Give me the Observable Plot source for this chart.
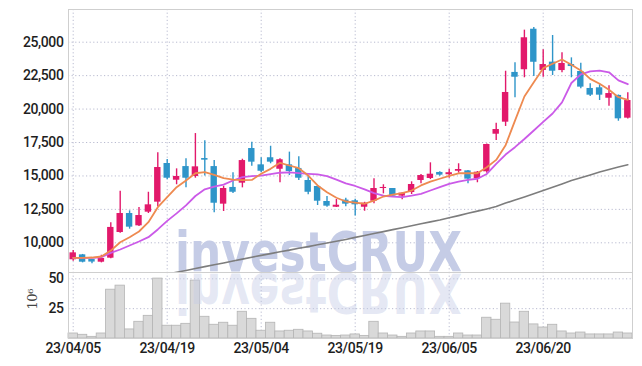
<!DOCTYPE html>
<html>
<head>
<meta charset="utf-8">
<script src="https://cdn.jsdelivr.net/npm/d3@7"></script>
<script src="https://cdn.jsdelivr.net/npm/@observablehq/plot@0.6"></script>
<style>
  html, body { margin: 0; padding: 0; background: #fff; }
  #chart { position: relative; width: 642px; height: 366px; overflow: hidden; }
  #chart svg { position: absolute; left: 0; overflow: visible; }
</style>
</head>
<body>
<div id="chart"></div>
<script>
const dates = ["23/04/05","23/04/06","23/04/07","23/04/10","23/04/11","23/04/12","23/04/13","23/04/14","23/04/17","23/04/18","23/04/19","23/04/20","23/04/21","23/04/24","23/04/25","23/04/26","23/04/27","23/04/28","23/05/02","23/05/03","23/05/04","23/05/08","23/05/09","23/05/10","23/05/11","23/05/12","23/05/15","23/05/16","23/05/17","23/05/18","23/05/19","23/05/22","23/05/23","23/05/24","23/05/25","23/05/26","23/05/30","23/05/31","23/06/01","23/06/02","23/06/05","23/06/07","23/06/08","23/06/09","23/06/12","23/06/13","23/06/14","23/06/15","23/06/16","23/06/19","23/06/20","23/06/21","23/06/22","23/06/23","23/06/26","23/06/27","23/06/28","23/06/29","23/06/30","23/07/03"];

const open  = [8730,9100,8750,8550,8850,10770,12190,11270,12290,13040,15930,14680,15700,14960,16300,15700,12890,14140,14460,17050,15830,16360,15500,15830,15560,14660,14210,13090,12660,13190,13140,12660,13110,14060,14060,13490,13760,14660,14810,15260,15090,15350,15380,14790,15310,18120,19020,22740,22940,25970,22890,23510,22880,23330,22810,21540,21590,20810,21020,19320];
const high  = [9420,9130,8760,9070,11500,13860,12390,12640,13780,16730,16230,15530,16280,18170,17630,16150,14230,15230,16250,17520,16360,17220,16280,16780,16430,15030,14290,13460,13240,13340,13260,13030,14790,14340,14060,13740,14560,15110,15980,15310,15500,15910,15400,15330,17380,18940,22830,23460,25900,26100,24430,25500,24210,23830,23430,21890,21820,21740,21050,21220];
const low   = [8620,8500,8430,8500,8800,10720,11020,11220,12190,12690,14710,14340,14110,14830,15000,12240,12340,13690,14110,15730,15240,15910,14490,15030,14660,13590,12790,12660,12640,12690,12000,12360,12920,13660,13480,13220,13610,14410,14730,14980,14830,15210,14410,14490,15200,17650,18700,20840,22340,22440,22380,22510,22710,22340,21520,20940,20640,20220,19090,19250];
const close = [9250,8550,8560,8830,11150,12190,11170,12040,12840,15630,14830,14960,14830,15680,16180,12960,14060,13780,16150,16030,15350,16030,16210,15330,14830,13780,13110,12740,12810,12890,12840,12960,14060,14140,13490,13710,14360,15030,15130,15060,15240,15480,14760,15280,17350,18470,21240,22380,25330,23500,23330,22830,23410,23180,21640,21040,21040,21160,19270,20640];

const ma5  = [8880,8880,8900,8975,9420,10045,10420,10845,11540,12660,13410,14160,14660,15200,15280,15085,14830,14730,14680,14700,15160,15530,15980,15780,15580,15030,14290,13780,13370,13090,13000,12920,13160,13460,13610,13710,13910,14290,14580,14790,15010,15200,15200,15200,15650,16200,17300,19140,20940,22010,23060,23390,23710,23310,22890,22260,21890,21440,20890,20690];
const ma20 = [8880,8880,8880,8920,9250,9500,9800,10100,10420,11000,11640,12200,12800,13500,14000,14200,14350,14660,14910,14980,15030,15130,15240,15260,15210,15160,15110,14980,14730,14450,14250,13990,13710,13520,13460,13410,13520,13660,13910,14160,14410,14580,14710,14790,15150,15900,16600,17150,17760,18400,19040,19670,20500,21950,22600,22820,22880,22750,22150,21860];
const ma60 = [null,null,null,null,null,null,null,null,null,null,7667,7794,7936,8078,8220,8355,8497,8639,8781,8923,9058,9192,9327,9454,9589,9716,9850,9985,10112,10254,10404,10546,10695,10838,10987,11129,11271,11421,11563,11705,11870,12034,12206,12371,12535,12715,12969,13200,13432,13664,13904,14150,14405,14659,14861,15078,15295,15489,15668,15840];

const volume = [4.2,3.1,1.4,4.2,40.9,44.3,7.6,14,19,50.2,10.7,10.7,12.3,48.5,18.2,11.5,13.2,10.7,22.4,16.5,6.5,13.2,5.9,6.5,7.3,5.9,4.0,2.5,2.2,2.5,3.4,2.2,14,4.2,2.5,1.4,4.2,5.9,5.9,1.4,1.4,4.2,2.5,2.5,17.4,15.7,29.2,13.4,22.4,11.8,9.2,11.5,5.9,4.2,5,3.4,3.4,3.4,5,4.2];

const priceTicks = [10000,12500,15000,17500,20000,22500,25000];
const volumeTicks = [25,50];
const dateTicks = ["23/04/05","23/04/19","23/05/04","23/05/19","23/06/05","23/06/20"];
const watermarkText = "investCRUX";

const rows = dates.map((d, i) => ({
  date: d, open: open[i], high: high[i], low: low[i], close: close[i],
  ma5: ma5[i], ma20: ma20[i], ma60: ma60[i], volume: volume[i]
}));

const UP = "#e2196b", DOWN = "#2e95c9";
const candleColor = d => d.close >= d.open ? UP : DOWN;
const gridStyle = {stroke: "#b9bbd0", strokeOpacity: 1, strokeDasharray: "1.2,2.4", strokeWidth: 1};
const baseStyle = {fontFamily: "Roboto, sans-serif", fontSize: "14px", color: "#1e1e1e", fontWeight: 500, letterSpacing: "-0.4px", background: "transparent", overflow: "visible"};

const xScale = {type: "band", domain: dates, padding: 0, round: false, axis: null};

const price = Plot.plot({
  width: 642, height: 272,
  marginTop: 9, marginBottom: 0, marginLeft: 68, marginRight: 10,
  style: baseStyle,
  x: xScale,
  y: {domain: [7780, 27445], axis: null},
  marks: [
    Plot.gridY(priceTicks, gridStyle),
    Plot.gridX(dateTicks, gridStyle),
    Plot.axisY(priceTicks, {tickFormat: d3.format(","), tickSize: 0, tickPadding: 5, label: null}),
    Plot.ruleX(rows, {x: "date", y1: "low", y2: "high", stroke: candleColor, strokeWidth: 1.4}),
    Plot.barY(rows, {x: "date", y1: "open", y2: "close", fill: candleColor, insetLeft: 1.5, insetRight: 1.5}),
    Plot.line(rows, {x: "date", y: "ma60", stroke: "#7d7d7d", strokeWidth: 1.6, clip: "frame"}),
    Plot.line(rows, {x: "date", y: "ma20", stroke: "#cb5ae8", strokeWidth: 1.8, clip: "frame"}),
    Plot.line(rows, {x: "date", y: "ma5", stroke: "#ee8a50", strokeWidth: 1.8, clip: "frame"}),
    Plot.frame({stroke: "#cfcfcf"})
  ]
});

const vol = Plot.plot({
  width: 642, height: 94,
  marginTop: 0, marginBottom: 28, marginLeft: 68, marginRight: 10,
  style: baseStyle,
  x: xScale,
  y: {domain: [0, 55.3], axis: null},
  marks: [
    Plot.gridY(volumeTicks, gridStyle),
    Plot.gridX(dateTicks, gridStyle),
    Plot.barY(rows, {x: "date", y: "volume", fill: "#d9d9d9", stroke: "#b4b4b4", strokeWidth: 0.8}),
    Plot.axisY(volumeTicks, {tickSize: 0, tickPadding: 5, label: null}),
    Plot.axisX(dateTicks, {tickSize: 0, tickPadding: 5, label: null}),
    Plot.text(["10⁶"], {frameAnchor: "left", dx: -36, dy: 4, rotate: -90, fontFamily: "DejaVu Serif", fontSize: 13, fontWeight: 400, fill: "#444"}),
    Plot.frame({stroke: "#cfcfcf"})
  ]
});

const chart = document.getElementById("chart");
price.style.top = "0px";
vol.style.top = "272px";
chart.appendChild(vol);
chart.appendChild(price);

// Watermark (decoration): upright in price panel, mirrored in volume panel
const svgP = d3.select(price);
const firstMark = svgP.select("g[aria-label='rule']").node();
const wm = document.createElementNS("http://www.w3.org/2000/svg", "text");
price.insertBefore(wm, firstMark);
d3.select(wm)
  .attr("x", 175).attr("y", 271)
  .attr("text-anchor", "start")
  .attr("textLength", 287).attr("lengthAdjust", "spacingAndGlyphs")
  .attr("font-family", "DejaVu Sans").attr("font-weight", "bold").attr("font-size", 55)
  .style("letter-spacing", "0px")
  .attr("fill", "#c5cce6").text(watermarkText);

d3.select(vol).append("text")
  .attr("transform", "translate(175,2) scale(1,-1)")
  .attr("x", 0).attr("y", 0)
  .attr("text-anchor", "start")
  .attr("textLength", 287).attr("lengthAdjust", "spacingAndGlyphs")
  .attr("font-family", "DejaVu Sans").attr("font-weight", "bold").attr("font-size", 55)
  .style("letter-spacing", "0px")
  .attr("fill", "#c5cce6").attr("fill-opacity", 0.45).text(watermarkText);
</script>
</body>
</html>
